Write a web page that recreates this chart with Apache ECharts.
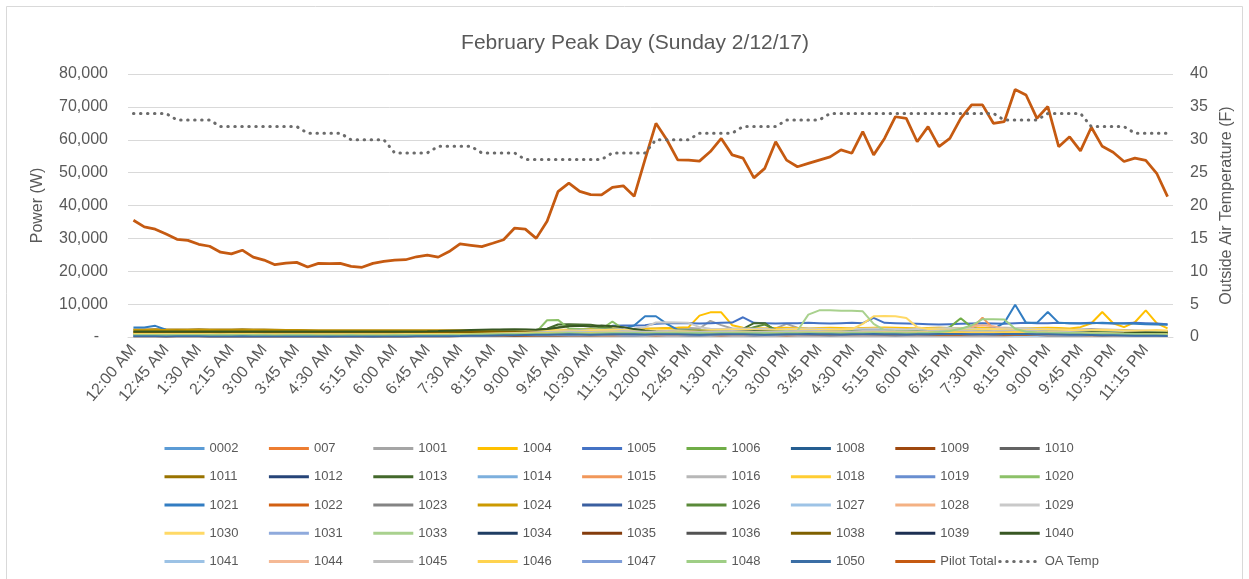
<!DOCTYPE html>
<html>
<head>
<meta charset="utf-8">
<title>February Peak Day</title>
<script src="https://cdn.jsdelivr.net/npm/echarts@6/dist/echarts.min.js"></script>
<style>
  html, body { margin: 0; padding: 0; background: #fff; }
  #main { width: 1249px; height: 579px; }
</style>
</head>
<body>
<div id="main"></div>
<script type="text/javascript">
// 15 minute categories, one label shown every 45 min
var timeLabels = ['12:00 AM','12:15 AM','12:30 AM','12:45 AM','1:00 AM','1:15 AM','1:30 AM','1:45 AM','2:00 AM','2:15 AM','2:30 AM','2:45 AM',
  '3:00 AM','3:15 AM','3:30 AM','3:45 AM','4:00 AM','4:15 AM','4:30 AM','4:45 AM','5:00 AM','5:15 AM','5:30 AM','5:45 AM',
  '6:00 AM','6:15 AM','6:30 AM','6:45 AM','7:00 AM','7:15 AM','7:30 AM','7:45 AM','8:00 AM','8:15 AM','8:30 AM','8:45 AM',
  '9:00 AM','9:15 AM','9:30 AM','9:45 AM','10:00 AM','10:15 AM','10:30 AM','10:45 AM','11:00 AM','11:15 AM','11:30 AM','11:45 AM',
  '12:00 PM','12:15 PM','12:30 PM','12:45 PM','1:00 PM','1:15 PM','1:30 PM','1:45 PM','2:00 PM','2:15 PM','2:30 PM','2:45 PM',
  '3:00 PM','3:15 PM','3:30 PM','3:45 PM','4:00 PM','4:15 PM','4:30 PM','4:45 PM','5:00 PM','5:15 PM','5:30 PM','5:45 PM',
  '6:00 PM','6:15 PM','6:30 PM','6:45 PM','7:00 PM','7:15 PM','7:30 PM','7:45 PM','8:00 PM','8:15 PM','8:30 PM','8:45 PM',
  '9:00 PM','9:15 PM','9:30 PM','9:45 PM','10:00 PM','10:15 PM','10:30 PM','10:45 PM','11:00 PM','11:15 PM','11:30 PM','11:45 PM'];

var powerTicks = [0, 10000, 20000, 30000, 40000, 50000, 60000, 70000, 80000];
var tempTicks = [0, 5, 10, 15, 20, 25, 30, 35, 40];

// Pilot Total (W)
var pilotTotal = [35500,33500,32800,31300,29700,29400,28200,27600,25800,25300,26400,24300,
  23400,22000,22500,22700,21300,22400,22300,22400,21500,21200,22400,23000,
  23400,23500,24400,24900,24300,26000,28300,27900,27500,28500,29600,33100,
  32800,30000,35200,44200,46800,44300,43300,43200,45500,46000,42800,54000,
  65000,60000,53900,53800,53500,56400,60400,55400,54400,48400,51300,59400,
  53800,51800,52800,53800,54800,56900,55900,62500,55400,60400,67000,66500,
  59400,64000,57900,60400,66500,70600,70600,65000,65500,75300,73600,66500,
  70100,57900,60900,56600,63800,58000,56200,53400,54400,53700,49800,42700];

// Outside air temperature (F)
var oaTemp = [34,34,34,34,33,33,33,33,32,32,32,32,
  32,32,32,32,31,31,31,31,30,30,30,30,
  28,28,28,28,29,29,29,29,28,28,28,28,
  27,27,27,27,27,27,27,27,28,28,28,28,
  30,30,30,30,31,31,31,31,32,32,32,32,
  33,33,33,33,34,34,34,34,34,34,34,34,
  34,34,34,34,34,34,34,34,33,33,33,33,
  34,34,34,34,32,32,32,32,31,31,31,31];

// individual meters (W)
var m0002 = [320,310,300,300,290,300,310,300,290,280,290,300, 300,290,280,280,290,300,290,280,280,290,300,300, 310,320,330,320,310,300,320,340,350,340,330,350, 380,400,420,410,400,390,400,420,430,410,400,420, 430,440,420,410,400,420,430,440,420,410,420,430, 440,450,430,420,410,430,440,450,430,420,410,430, 440,450,460,440,430,420,440,450,460,440,430,420, 410,400,390,400,410,400,390,380,370,360,350,340];
var m007 = [520,510,500,500,490,480,490,500,490,480,470,480, 470,460,470,480,470,460,450,460,470,460,450,460, 470,480,490,500,510,500,520,540,560,580,600,620, 650,700,720,700,680,700,720,740,720,700,720,740, 760,780,800,780,760,740,760,780,800,820,800,780, 760,780,800,820,800,780,760,780,800,820,840,820, 800,820,840,860,840,820,800,820,840,860,840,820, 800,780,760,740,720,700,680,660,640,620,600,580];
var m1001 = [1050,1040,1030,1020,1010,1000,1000,990,980,990,1000,990, 980,970,980,990,980,970,960,970,980,970,960,970, 980,990,1000,1020,1040,1060,1080,1100,1150,1200,1250,1300, 1400,1600,1900,2100,2200,2300,2200,2100,2200,2300,2400,2500, 2600,2700,2800,2700,2600,4900,3600,2600,2500,2400,2500,2600, 4000,2800,2600,2500,2400,2500,2600,2700,2600,2500,2400,2500, 2600,2700,2800,2700,2600,2500,2600,2700,2800,2700,2600,2500, 2400,2300,2200,2300,2400,2300,2200,2100,2000,1900,1800,1700];
var m1004 = [1450,1440,1430,1420,1400,1410,1400,1390,1400,1380,1390,1400, 1380,1370,1380,1390,1380,1370,1360,1370,1380,1370,1360,1370, 1380,1390,1400,1420,1440,1460,1480,1500,1550,1600,1650,1700, 1800,1900,2000,2100,2200,2300,2400,2500,2600,2500,2400,2500, 2600,2700,2800,3000,6500,7500,7500,3600,2800,2700,2600,2700, 2800,2700,2600,2700,2800,2700,2600,2700,2800,2900,2800,2700, 2600,2700,2800,2700,2600,2700,2800,2700,2600,2500,2600,2700, 2800,2700,2600,3000,4200,7600,4200,3000,4500,8100,4200,2600];
var m1005 = [700,710,700,690,700,710,700,690,680,690,700,690, 680,670,680,690,680,670,660,670,680,670,660,670, 680,690,700,720,740,760,780,800,850,900,950,1000, 1100,1200,1300,1400,1600,1800,2000,2200,3400,3500,3500,3600, 4000,4200,4200,4200,4100,4200,4300,4400,6000,4300,4200,4100, 4200,4200,4300,4200,4100,4200,4300,4200,5800,4300,4200,4100, 4000,3900,3800,3900,4000,4100,4200,4100,4000,4200,4300,4200, 4200,4300,4200,4200,4300,4200,4100,4200,4300,4200,4100,3900];
var m1006 = [620,610,600,600,590,600,610,600,590,580,590,600, 600,590,580,580,590,600,590,580,580,590,600,600, 610,620,630,640,650,660,680,700,750,800,850,900, 1000,1100,1200,1300,1400,1500,1400,1300,1400,1500,1600,1500, 1400,1500,1600,1500,1400,1500,1600,1700,1600,1500,1400,1500, 1600,1700,1600,1500,1400,1500,1600,1500,1400,1500,1600,1700, 1800,1900,2000,3000,5700,3000,2000,1900,1800,1700,1800,1900, 1800,1700,1600,1700,1800,1700,1600,1500,1400,1500,1600,1500];
var m1008 = [420,410,400,400,390,400,410,400,390,380,390,400, 400,390,380,380,390,400,390,380,380,390,400,400, 410,420,430,440,450,460,470,480,500,520,540,560, 580,600,620,640,620,600,620,640,660,640,620,640, 660,680,660,640,620,640,660,680,660,640,620,640, 660,680,700,680,660,640,660,680,700,680,660,640, 660,680,700,720,700,680,660,680,700,720,700,680, 660,640,620,600,580,560,540,520,500,480,460,440];
var m1009 = [520,510,500,490,500,510,500,490,480,490,500,490, 480,470,480,490,480,470,460,470,480,470,460,470, 480,490,500,520,540,560,600,650,700,750,800,850, 900,950,1000,950,900,950,1000,1050,1000,950,900,950, 1000,1050,1100,1050,1000,950,1000,1050,1100,1050,1000,950, 900,950,1000,1050,1000,950,900,950,1000,1050,1100,1050, 1000,1050,1100,1150,1100,1050,1000,1050,1100,1150,1200,1150, 1100,1050,1000,950,900,850,800,750,700,650,600,550];
var m1010 = [410,400,400,390,400,410,400,390,380,390,400,390, 380,370,380,390,380,370,360,370,380,370,360,370, 380,390,400,420,440,460,500,550,600,650,700,750, 800,850,900,950,1000,1050,1000,950,1000,1050,1100,1050, 1000,1050,1100,1050,1000,1050,1100,1150,1100,1050,1000,1050, 1100,1150,1100,1050,1000,1050,1100,1150,1100,1050,1000,1050, 1100,1150,1200,1150,1100,1050,1100,1150,1200,1250,1200,1150, 1100,1050,1000,950,900,850,800,750,700,650,600,550];
var m1011 = [2300,2300,2350,2300,2250,2300,2350,2300,2250,2300,2350,2300, 2250,2200,2150,2100,2050,2000,2000,1980,1970,1980,1990,2000, 1990,1980,1970,1980,1990,2000,2010,2000,1990,2000,2050,2100, 2000,1900,1800,1850,1900,1800,1750,1800,1850,1800,1750,1800, 1850,1900,1850,1800,1750,1800,1850,1900,1850,1800,1750,1800, 1850,1900,1950,1900,1850,1800,1850,1900,1950,1900,1850,1800, 1750,1800,1850,1900,1850,1800,1850,1900,1950,1900,1850,1800, 1750,1700,1750,1800,1850,1800,1750,1700,1650,1700,1750,1700];
var m1012 = [920,910,900,900,890,900,910,900,890,880,890,900, 900,890,880,880,890,900,890,880,880,890,900,900, 910,920,930,950,970,1000,1050,1100,1150,1200,1250,1300, 1350,1400,1450,1500,1450,1400,1450,1500,1550,1500,1450,1500, 1550,1600,1550,1500,1450,1500,1550,1600,1550,1500,1450,1500, 1550,1600,1650,1600,1550,1500,1550,1600,1650,1600,1550,1500, 1550,1600,1650,1700,1650,1600,1550,1600,1650,1700,1650,1600, 1550,1500,1450,1400,1350,1300,1250,1200,1150,1100,1050,1000];
var m1013 = [1000,990,980,990,1000,990,980,970,980,990,1000,990, 980,970,980,990,980,970,960,970,980,970,960,970, 980,990,1000,1100,1200,1300,1400,1500,1700,2000,2200,2300, 2200,2100,2500,3800,3900,3800,3700,3300,2500,2000,1800,1600, 1600,1650,1600,1550,1600,1650,1700,1800,2500,4200,4200,1900, 1800,1700,1600,1700,1800,1700,1600,1700,1800,1700,1600,1700, 1800,1900,1800,1700,1800,1900,2000,1900,1800,1900,2000,1900, 1800,1700,1600,1700,1800,1700,1600,1500,1400,1500,1600,1500];
var m1014 = [600,610,600,590,600,610,600,590,580,590,600,590, 580,570,580,590,580,570,560,570,580,570,560,570, 580,590,600,610,620,630,640,650,660,680,700,720, 740,760,780,800,820,840,820,800,820,840,860,840, 820,800,820,840,860,840,820,800,820,840,860,840, 820,800,820,840,860,880,860,840,820,840,860,880, 900,920,900,880,860,880,900,920,900,880,860,880, 860,840,820,800,780,760,740,720,700,680,660,640];
var m1015 = [410,400,400,390,400,410,400,390,380,390,400,390, 380,370,380,390,380,370,360,370,380,370,360,370, 380,390,400,420,440,460,480,500,520,540,560,580, 600,650,700,750,800,850,800,750,800,850,900,850, 900,950,1000,950,900,950,1000,1050,1000,950,900,950, 1000,1050,1100,1050,1000,1050,1100,1150,1100,1050,1000,1050, 1100,1200,1300,1400,1600,2500,5900,2600,1600,1500,1400,1300, 1200,1150,1100,1050,1000,950,900,850,800,750,700,650];
var m1016 = [820,810,800,800,790,800,810,800,790,780,790,800, 800,790,780,780,790,800,790,780,780,790,800,800, 810,820,830,850,870,900,950,1000,1100,1200,1300,1400, 1500,1600,1700,1800,1900,2000,2100,2000,1900,2000,2100,2000, 1900,2000,2100,2200,2100,2000,1900,2000,2100,2200,2100,2000, 1900,2000,2100,2200,2300,2200,2100,2000,2100,2200,2300,2200, 2100,2000,1900,2000,2100,2200,2100,2000,1900,2000,2100,2200, 2100,2000,1900,1800,1700,1600,1500,1400,1300,1200,1100,1000];
var m1018 = [1000,1010,1000,990,1000,1010,1000,990,980,990,1000,990, 980,970,980,990,980,970,960,970,980,970,960,970, 980,990,1000,1010,1020,1030,1040,1050,1100,1150,1200,1250, 1300,1350,1400,1450,1500,1550,1500,1450,1500,1550,1600,1550, 1500,1550,1600,1650,1600,1550,1500,1550,1600,1650,1600,1550, 1500,1550,1600,1650,1700,1650,1600,1550,1600,1650,1700,1650, 1600,1650,1700,1750,1700,1650,1600,1650,1700,1750,1800,1750, 1700,1650,1600,1550,1500,1450,1400,1350,1300,1250,1200,1150];
var m1019 = [400,410,400,390,400,410,400,390,380,390,400,390, 380,370,380,390,380,370,360,370,380,370,360,370, 380,390,400,420,440,460,480,500,550,600,650,700, 750,800,850,900,850,800,850,900,950,900,850,900, 950,1000,950,900,850,900,950,1000,950,900,850,900, 950,1000,1050,1000,950,900,950,1000,1050,1000,950,900, 950,1000,1050,1100,1050,1000,950,1000,1050,1100,1050,1000, 950,900,850,800,750,700,650,600,550,500,450,400];
var m1020 = [500,510,500,490,500,510,500,490,480,490,500,490, 480,470,480,490,480,470,460,470,480,470,460,470, 480,490,500,520,540,560,600,650,700,800,900,1000, 1100,1500,5100,5200,2600,2400,2300,2400,4700,2400,2200,2000, 1900,1800,1900,2000,1900,1800,1900,2000,1900,1800,1700,1800, 1900,2000,1900,1800,1700,1800,1900,2000,1900,1800,1700,1800, 1900,2000,2100,2000,1900,1800,1900,2000,2100,2000,1900,1800, 1700,1600,1500,1600,1700,1600,1500,1400,1300,1400,1500,1400];
var m1021 = [2900,2900,3400,2200,1600,1500,1450,1400,1380,1360,1350,1340, 1330,1320,1310,1300,1290,1280,1270,1260,1250,1240,1230,1220, 1210,1200,1190,1200,1210,1220,1230,1240,1250,1300,1350,1400, 1500,1600,1700,1800,1900,2000,2100,2200,2300,2500,3500,6300, 6300,4000,2200,2100,2000,2100,2200,2300,2200,2100,2000,2100, 2200,2300,2200,2100,2000,2100,2200,2300,2200,2100,2000,2100, 2200,2300,2400,2300,2200,2300,2400,2500,4300,9800,4300,4300, 7600,4300,4200,4100,4200,4300,4200,4100,4000,3900,3800,3700];
var m1022 = [210,200,200,190,200,210,200,190,180,190,200,190, 180,170,180,190,180,170,160,170,180,170,160,170, 180,190,200,220,240,260,280,300,320,340,360,380, 400,420,440,460,480,500,480,460,480,500,520,500, 480,500,520,540,520,500,480,500,520,540,520,500, 480,500,520,540,560,540,520,500,520,540,560,540, 520,540,560,580,560,540,520,540,560,580,600,580, 560,540,520,500,480,460,440,420,400,380,360,340];
var m1023 = [610,600,600,590,600,610,600,590,580,590,600,590, 580,570,580,590,580,570,560,570,580,570,560,570, 580,590,600,620,640,660,700,750,800,850,900,950, 1000,1050,1100,1150,1200,1250,1200,1150,1200,1250,1300,1250, 1200,1250,1300,1350,1300,1250,1200,1250,1300,1350,1300,1250, 1200,1250,1300,1350,1400,1350,1300,1250,1300,1350,1400,1350, 1300,1350,1400,1450,1400,1350,1300,1350,1400,1450,1500,1450, 1400,1350,1300,1250,1200,1150,1100,1050,1000,950,900,850];
var m1024 = [2100,2120,2110,2100,2090,2100,2110,2100,2090,2080,2090,2100, 2080,2060,2040,2020,2000,1990,1980,1970,1960,1970,1980,1990, 1980,1970,1960,1970,1980,1990,2000,1990,1980,1990,2000,2010, 1950,1900,1850,1800,1750,1800,1850,1800,1750,1800,1850,1800, 1750,1700,1750,1800,1850,1800,1750,1700,1750,1800,1850,1800, 1750,1800,1850,1800,1750,1700,1750,1800,1850,1800,1750,1700, 1750,1800,1850,1900,1850,1800,1750,1800,1850,1900,1850,1800, 1750,1700,1650,1700,1750,1700,1650,1600,1650,1700,1650,1600];
var m1025 = [600,600,610,600,590,600,610,600,590,600,610,600, 590,580,590,600,590,580,570,580,590,580,570,580, 590,600,610,620,630,640,660,680,700,750,800,850, 900,950,1000,1050,1000,950,1000,1050,1100,1050,1000,1050, 1100,1050,1000,950,1000,1050,1100,1150,1100,1050,1000,1050, 1100,1150,1100,1050,1000,1050,1100,1150,1200,1150,1100,1050, 1100,1150,1200,1250,1200,1150,1100,1150,1200,1250,1200,1150, 1100,1050,1000,950,900,850,800,750,700,650,600,550];
var m1026 = [800,810,800,790,800,810,800,790,780,790,800,790, 780,770,780,790,780,770,760,770,780,770,760,770, 780,790,800,850,900,1000,1100,1200,1400,1600,1800,2000, 2100,2200,2400,3000,3400,3500,3300,3000,2500,2200,2100,2000, 1900,1800,1900,2000,2100,2000,1900,1800,1900,3000,3800,2200, 2000,1900,1800,1900,2000,2100,2000,1900,1800,1900,2000,2100, 2000,1900,1800,1900,2000,2100,2200,2100,2000,1900,1800,1900, 2000,1900,1800,1700,1600,1700,1800,1700,1600,1500,1400,1300];
var m1027 = [300,310,300,290,300,310,300,290,280,290,300,290, 280,270,280,290,280,270,260,270,280,270,260,270, 280,290,300,320,340,360,380,400,450,500,550,600, 650,700,750,700,650,700,750,800,750,700,650,700, 750,800,750,700,650,700,750,800,750,700,650,700, 750,800,850,800,750,700,750,800,850,800,750,700, 750,800,850,900,850,800,750,800,850,900,850,800, 750,700,650,600,550,500,450,400,350,300,300,300];
var m1028 = [500,510,500,490,500,510,500,490,480,490,500,490, 480,470,480,490,480,470,460,470,480,470,460,470, 480,490,500,520,540,560,600,650,700,750,800,850, 900,950,1000,1050,1000,950,1000,1050,1100,1050,1000,1050, 1100,1150,1100,1050,1000,1050,1100,1150,1100,1050,1000,1050, 1100,1150,1200,1150,1100,1050,1100,1150,1200,1150,1100,1050, 1100,1200,1400,1800,2400,3200,3600,3300,2600,2000,1800,1600, 1500,1400,1300,1250,1200,1150,1100,1050,1000,950,900,850];
var m1029 = [900,910,900,890,900,910,900,890,880,890,900,890, 880,870,880,890,880,870,860,870,880,870,860,870, 880,890,900,920,940,960,1000,1050,1100,1200,1300,1400, 1500,1600,1700,1800,1900,2000,2100,2200,2300,2400,2600,3000, 4400,4500,4400,4300,3000,2500,2400,2500,2600,2500,2400,2300, 2400,2500,2600,2500,2400,2300,2400,2500,2600,2500,2400,2300, 2400,2500,2600,2700,2600,2500,2400,2500,2600,2700,2600,2500, 2400,2300,2200,2100,2000,1900,1800,1700,1600,1500,1400,1300];
var m1030 = [1200,1210,1200,1190,1200,1210,1200,1190,1180,1190,1200,1190, 1180,1170,1180,1190,1180,1170,1160,1170,1180,1170,1160,1170, 1180,1190,1200,1220,1240,1260,1300,1350,1400,1500,1600,1700, 1800,1900,2000,2100,2000,1900,2000,2100,2200,2100,2000,2100, 2200,2100,2000,1900,2000,2100,2200,2300,2200,2100,2000,2100, 2200,2300,2200,2100,2200,2300,2400,4000,6300,6400,6300,5800, 3000,2400,2300,2200,2100,2200,2300,2400,2300,2200,2100,2200, 2300,2200,2100,2000,2100,2200,2100,2000,1900,2000,2100,2000];
var m1031 = [500,500,510,500,490,500,510,500,490,500,510,500, 490,480,490,500,490,480,470,480,490,480,470,480, 490,500,510,520,530,540,560,580,600,650,700,750, 800,850,900,950,1000,1050,1100,1050,1000,1050,1100,1150, 1100,1050,1000,1050,1100,1150,1200,1150,1100,1050,1100,1150, 1200,1150,1100,1050,1100,1150,1200,1250,1200,1150,1100,1150, 1200,1250,1300,1250,1200,1150,1200,1250,1300,1350,1300,1250, 1200,1150,1100,1050,1000,950,900,850,800,750,700,650];
var m1033 = [400,410,400,390,400,410,400,390,380,390,400,390, 380,370,380,390,380,370,360,370,380,370,360,370, 380,390,400,420,440,460,500,550,600,700,800,900, 1000,1100,1200,1300,1400,1500,1400,1300,1400,1500,1600,1500, 1400,1500,1600,1500,1400,1500,1600,1700,1600,1500,1600,1700, 1800,1900,6800,8100,8100,8000,8000,7800,4000,2000,1800,1700, 1600,1700,1800,1900,2000,1900,1800,1700,1600,1700,1800,1700, 1600,1500,1400,1500,1600,1500,1400,1300,1200,1300,1400,1300];
var m1034 = [500,490,500,510,500,490,500,510,500,490,500,510, 500,490,480,490,500,490,480,470,480,490,480,470, 480,490,500,520,540,560,600,640,680,720,760,800, 850,900,950,1000,1050,1100,1150,1200,1150,1100,1150,1200, 1250,1200,1150,1100,1150,1200,1250,1300,1250,1200,1150,1200, 1250,1300,1250,1200,1150,1200,1250,1300,1350,1300,1250,1200, 1250,1300,1350,1400,1350,1300,1250,1300,1350,1400,1350,1300, 1250,1200,1150,1100,1050,1000,950,900,850,800,750,700];
var m1035 = [300,290,300,310,300,290,300,310,300,290,300,310, 300,290,280,290,300,290,280,270,280,290,280,270, 280,290,300,320,340,360,380,400,420,440,460,480, 500,520,540,560,580,600,620,600,580,600,620,640, 620,600,580,600,620,640,660,640,620,600,620,640, 660,640,620,600,620,640,660,680,660,640,620,600, 620,640,660,680,700,680,660,640,660,680,700,680, 660,640,620,600,580,560,540,520,500,480,460,440];
var m1036 = [310,300,300,290,300,310,300,290,280,290,300,290, 280,270,280,290,280,270,260,270,280,270,260,270, 280,290,300,320,340,360,400,450,500,550,600,650, 700,750,800,850,900,850,800,850,900,950,900,850, 900,950,1000,950,900,850,900,950,1000,950,900,850, 900,950,1000,1050,1000,950,900,950,1000,1050,1000,950, 1000,1050,1100,1050,1000,950,1000,1050,1100,1150,1100,1050, 1000,950,900,850,800,750,700,650,600,550,500,450];
var m1038 = [1500,1510,1500,1490,1500,1510,1500,1490,1480,1490,1500,1490, 1480,1470,1480,1490,1480,1470,1460,1470,1480,1470,1460,1470, 1480,1490,1500,1510,1520,1530,1540,1550,1560,1570,1580,1590, 1500,1400,1300,1250,1200,1250,1300,1250,1200,1250,1300,1250, 1200,1250,1300,1250,1200,1150,1200,1250,1300,1250,1200,1150, 1200,1250,1300,1350,1300,1250,1200,1250,1300,1350,1300,1250, 1200,1250,1300,1350,1400,1350,1300,1250,1300,1350,1400,1350, 1300,1250,1200,1150,1200,1250,1200,1150,1100,1150,1200,1150];
var m1039 = [400,400,410,400,390,400,410,400,390,400,410,400, 390,380,390,400,390,380,370,380,390,380,370,380, 390,400,410,420,440,460,500,550,600,650,700,750, 800,850,900,950,1000,950,900,950,1000,1050,1000,950, 1000,1050,1000,950,900,950,1000,1050,1000,950,900,950, 1000,1050,1100,1050,1000,950,1000,1050,1100,1050,1000,950, 1000,1050,1100,1150,1100,1050,1000,1050,1100,1150,1100,1050, 1000,950,900,850,800,750,700,650,600,550,500,450];
var m1040 = [1700,1700,1710,1700,1690,1700,1710,1700,1690,1700,1710,1700, 1690,1680,1690,1700,1690,1680,1670,1680,1690,1680,1670,1680, 1690,1700,1710,1750,1800,1900,2000,2100,2200,2300,2300,2250, 2300,2200,2400,2800,3300,3400,3200,3500,3300,3000,2400,2000, 1700,1600,1500,1600,1700,1600,1500,1600,1700,1800,1700,1600, 1500,1600,1700,1600,1500,1400,1500,1600,1700,1600,1500,1400, 1500,1600,1700,1800,1700,1600,1500,1600,1700,1800,1700,1600, 1500,1400,1300,1400,1500,1400,1300,1200,1300,1400,1300,1200];
var m1041 = [400,410,400,390,400,410,400,390,380,390,400,390, 380,370,380,390,380,370,360,370,380,370,360,370, 380,390,400,420,440,460,480,500,550,600,650,700, 720,740,760,780,800,780,760,780,800,820,800,780, 800,820,840,820,800,780,800,820,840,820,800,780, 800,820,840,860,840,820,800,820,840,860,840,820, 840,860,880,900,880,860,840,860,880,900,880,860, 840,820,800,780,760,740,720,700,680,660,640,620];
var m1044 = [300,300,310,300,290,300,310,300,290,300,310,300, 290,280,290,300,290,280,270,280,290,280,270,280, 290,300,310,320,340,360,380,400,450,500,550,600, 650,700,750,700,650,700,750,800,750,700,650,700, 750,700,650,700,750,800,750,700,650,700,750,800, 750,700,750,800,850,800,750,700,750,800,850,800, 750,800,850,900,850,800,750,800,850,900,850,800, 750,700,650,600,550,500,450,400,380,360,340,320];
var m1045 = [700,710,700,690,700,710,700,690,680,690,700,690, 680,670,680,690,680,670,660,670,680,670,660,670, 680,690,700,720,740,760,800,850,900,1000,1100,1200, 1300,1400,1500,1600,1700,1600,1500,1600,1700,1800,1700,1600, 1700,1800,1700,1600,1500,1600,1700,1800,1700,1600,1500,1600, 1700,1800,1900,1800,1700,1600,1700,1800,1900,1800,1700,1600, 1700,1800,1900,2000,1900,1800,1700,1800,1900,2000,1900,1800, 1700,1600,1500,1400,1300,1200,1100,1000,950,900,850,800];
var m1046 = [800,810,800,790,800,810,800,790,780,790,800,790, 780,770,780,790,780,770,760,770,780,770,760,770, 780,790,800,820,840,860,880,900,950,1000,1050,1100, 1150,1200,1250,1300,1250,1200,1250,1300,1350,1300,1250,1200, 1250,1300,1350,1300,1250,1200,1250,1300,1350,1300,1250,1200, 1250,1300,1350,1400,1350,1300,1250,1300,1350,1400,1350,1300, 1350,1400,1450,1500,1450,1400,1350,1400,1450,1500,1450,1400, 1350,1300,1250,1200,1150,1100,1050,1000,950,900,850,800];
var m1047 = [350,360,350,340,350,360,350,340,330,340,350,340, 330,320,330,340,330,320,310,320,330,320,310,320, 330,340,350,370,390,410,430,450,500,550,600,650, 700,750,800,750,700,750,800,850,800,750,700,750, 800,850,800,750,700,750,800,850,800,750,700,750, 800,850,900,850,800,750,800,850,900,850,800,750, 800,850,900,950,900,850,800,850,900,950,900,850, 800,750,700,650,600,550,500,450,400,380,360,340];
var m1048 = [600,610,600,590,600,610,600,590,580,590,600,590, 580,570,580,590,580,570,560,570,580,570,560,570, 580,590,600,620,640,660,700,750,800,850,900,950, 1000,1050,1100,1150,1200,1150,1100,1150,1200,1250,1200,1150, 1200,1250,1300,1250,1200,1150,1200,1250,1300,1250,1200,1150, 1200,1250,1300,1250,1200,1150,1200,1250,1300,1250,1200,1150, 1200,1300,1500,1800,2500,3500,5400,5400,5300,2500,1600,1400, 1300,1250,1200,1150,1100,1050,1000,950,900,850,800,750];
var m1050 = [200,210,200,190,200,210,200,190,180,190,200,190, 180,170,180,190,180,170,160,170,180,170,160,170, 180,190,200,220,240,260,300,350,400,450,500,550, 600,650,700,750,800,750,700,750,800,850,800,750, 800,850,800,750,700,750,800,850,800,750,700,750, 800,850,900,850,800,750,800,850,900,850,800,750, 800,850,900,950,900,850,800,850,900,950,900,850, 800,750,700,650,600,550,500,450,400,380,360,340];

var meterNames = ['0002','007','1001','1004','1005','1006','1008','1009','1010',
  '1011','1012','1013','1014','1015','1016','1018','1019','1020',
  '1021','1022','1023','1024','1025','1026','1027','1028','1029',
  '1030','1031','1033','1034','1035','1036','1038','1039','1040',
  '1041','1044','1045','1046','1047','1048','1050'];
var meterData = [m0002,m007,m1001,m1004,m1005,m1006,m1008,m1009,m1010,
  m1011,m1012,m1013,m1014,m1015,m1016,m1018,m1019,m1020,
  m1021,m1022,m1023,m1024,m1025,m1026,m1027,m1028,m1029,
  m1030,m1031,m1033,m1034,m1035,m1036,m1038,m1039,m1040,
  m1041,m1044,m1045,m1046,m1047,m1048,m1050];
var meterColors = ['#5B9BD5','#ED7D31','#A5A5A5','#FFC000','#4472C4','#70AD47','#255E91','#9E480E','#636363',
  '#997300','#264478','#43682B','#7CAFDD','#F1975A','#B7B7B7','#FFCD33','#698ED0','#8CC168',
  '#327DC2','#D26012','#848484','#CC9A00','#3A5FA0','#5A8A39','#9DC3E6','#F4B183','#C9C9C9',
  '#FFD966','#8FAADC','#A9D18E','#1F3D63','#843C0C','#525252','#7F6000','#1C2F52','#385723',
  '#9CC2E5','#F5B995','#BFBFBF','#FFD34F','#7F9ED8','#9FCE85','#3B6EA5'];

var font = 'Liberation Sans';
var txt = '#595959';

var chart = echarts.init(document.getElementById('main'));

var series = [];
for (var i = 0; i < meterNames.length; i++) {
  series.push({
    name: meterNames[i], type: 'line', data: meterData[i], symbol: 'none', showSymbol: false,
    itemStyle: { color: meterColors[i], opacity: 0 },
    lineStyle: { width: 2, color: meterColors[i] }
  });
}
series.push({
  name: 'Pilot Total', type: 'line', data: pilotTotal, symbol: 'none', showSymbol: false,
  itemStyle: { color: '#C55A11', opacity: 0 },
  lineStyle: { width: 2.75, color: '#C55A11' }
});
series.push({
  name: 'OA Temp', type: 'line', yAxisIndex: 1, data: oaTemp, symbol: 'none', showSymbol: false,
  itemStyle: { color: '#6B6B6B', opacity: 0 },
  lineStyle: { width: 3, color: '#6B6B6B', type: [0.5, 6.5], cap: 'round' }
});

// legend laid out as a 9 column grid like Excel
var legendNames = meterNames.concat(['Pilot Total', 'OA Temp']);
var legends = legendNames.map(function (n, k) {
  return {
    data: [n], left: 163 + (k % 9) * 104.4, top: 442 + Math.floor(k / 9) * 28.25,
    padding: 0, itemWidth: 40, itemHeight: 14, selectedMode: false,
    itemStyle: { opacity: 0 },
    lineStyle: { width: 3 },
    textStyle: { fontFamily: font, fontSize: 13, color: txt }
  };
});

var option = {
  animation: false,
  backgroundColor: '#fff',
  title: {
    text: 'February Peak Day (Sunday 2/12/17)',
    left: 630, top: 28, textAlign: 'center',
    textStyle: { fontFamily: font, fontSize: 21, fontWeight: 'normal', color: txt }
  },
  graphic: [{
    type: 'rect', silent: true,
    shape: { x: 6.5, y: 6.5, width: 1236, height: 600 },
    style: { fill: 'none', stroke: '#D9D9D9', lineWidth: 1 }
  }],
  legend: legends,
  grid: { left: 128, right: 76, top: 74, bottom: 242 },
  xAxis: {
    type: 'category', data: timeLabels, boundaryGap: true,
    axisTick: { show: false },
    axisLine: { lineStyle: { color: '#D9D9D9' } },
    axisLabel: { interval: 2, rotate: 50, margin: 10, fontFamily: font, fontSize: 16, color: txt }
  },
  yAxis: [{
    type: 'value', min: powerTicks[0], max: powerTicks[powerTicks.length - 1], interval: powerTicks[1] - powerTicks[0],
    name: 'Power (W)', nameLocation: 'middle', nameGap: 82,
    nameTextStyle: { fontFamily: font, fontSize: 16, color: txt },
    axisLine: { show: false }, axisTick: { show: false },
    splitLine: { lineStyle: { color: '#D9D9D9' } },
    axisLabel: {
      margin: 20, fontFamily: font, fontSize: 16, color: txt,
      formatter: function (v) { return v === 0 ? '{d|-}' : v.toLocaleString('en-US'); },
      rich: { d: { fontFamily: font, fontSize: 16, color: txt, padding: [0, 9, 0, 0] } }
    }
  }, {
    type: 'value', position: 'right', min: tempTicks[0], max: tempTicks[tempTicks.length - 1], interval: tempTicks[1] - tempTicks[0],
    name: 'Outside Air Temperature (F)', nameLocation: 'middle', nameGap: 42,
    nameTextStyle: { fontFamily: font, fontSize: 16, color: txt },
    axisLine: { show: false }, axisTick: { show: false },
    splitLine: { show: false },
    axisLabel: { margin: 17, fontFamily: font, fontSize: 16, color: txt }
  }],
  series: series
};

chart.setOption(option);
</script>
</body>
</html>
